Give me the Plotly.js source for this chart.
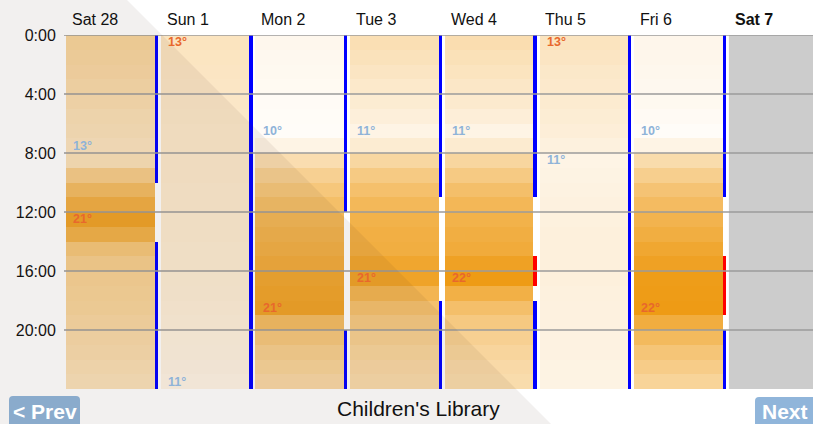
<!DOCTYPE html>
<html><head><meta charset="utf-8">
<script src="https://cdn.plot.ly/plotly-3.0.1.min.js"></script>
<style>html,body{margin:0;padding:0;background:#fff;overflow:hidden}#chart{width:813px;height:424px}</style>
</head><body><div id="chart"></div>
<script>
// ---- data ----
const days = ['Sat 28','Sun 1','Mon 2','Tue 3','Wed 4','Thu 5','Fri 6','Sat 7'];
const hourTickVals = [0,4,8,12,16,20];
const hourTickText = ['0:00','4:00','8:00','12:00','16:00','20:00'];
const tempSat28 = [14.8,14.6,14.4,14.1,13.8,13.5,13.3,13.0,13.4,15.8,17.8,19.5,21.0,19.2,16.6,15.6,15.2,15.0,14.8,14.5,14.2,13.9,13.6,13.3];
const tempSun1  = [13.0,12.9,12.8,12.7,12.6,12.5,12.4,12.4,12.3,12.3,12.2,12.2,12.1,12.1,12.0,12.0,11.9,11.8,11.7,11.6,11.4,11.3,11.2,11.0];
const tempMon2  = [10.6,10.5,10.4,10.3,10.1,10.05,10.0,11.0,13.8,15.4,16.6,17.6,18.5,19.0,19.4,19.9,20.5,20.8,21.0,17.8,16.5,15.6,15.0,14.4];
const tempTue3  = [13.6,13.2,12.8,12.4,12.0,11.6,11.0,12.0,14.6,16.2,17.4,18.4,19.2,19.5,19.7,20.6,21.0,18.8,17.3,16.2,15.4,14.8,14.4,14.1];
const tempWed4  = [13.8,13.4,13.0,12.6,12.2,11.7,11.0,12.1,14.7,16.2,17.5,18.5,19.2,19.6,20.0,21.2,22.0,19.4,17.5,16.3,15.4,14.8,14.3,14.0];
const tempThu5  = [13.0,12.8,12.5,12.3,12.1,11.9,11.7,11.4,11.0,11.1,11.2,11.3,11.4,11.5,11.5,11.5,11.5,11.4,11.3,11.3,11.2,11.2,11.1,11.1];
const tempFri6  = [10.7,10.7,10.6,10.5,10.4,10.2,10.0,11.0,14.0,15.6,17.0,18.0,19.0,19.7,20.5,21.2,21.8,21.9,22.0,19.8,18.2,16.8,15.9,15.0];
const segDay   = [0,0,1,2,2,3,3,4,4,4,5,6,6,6];
const segStart = [0,14,0,0,20,0,18,0,15,18,0,0,15,20];
const segEnd   = [10,24,24,12,24,11,24,11,17,24,24,11,19,24];
const segState = ['blue','blue','blue','blue','blue','blue','blue','blue','red','blue','blue','blue','red','blue'];
const labelDay  = [0,0,1,1,2,2,3,3,4,4,5,5,6,6];
const labelHour = [7,12,0,23,6,18,6,16,6,16,0,8,6,18];
const labelText = ['13°','21°','13°','11°','10°','21°','11°','21°','11°','22°','13°','11°','10°','22°'];
const labelKind = ['min','max','max','min','min','max','min','max','min','max','max','min','min','max'];
const noDataDay = 7;
const chartTitle = "Children's Library";

// ---- geometry helpers (decoration only) ----
const W = 813, H = 424, L = 66, T = 35, PW = 747, PH = 354;
const DAYPX = 94.7;
const px2x = p => (p - L) / PW;
const py2y = p => (T + PH - p) / PH;
const CELLW = 0.935;

const temps = [tempSat28, tempSun1, tempMon2, tempTue3, tempWed4, tempThu5, tempFri6];
const xEdges = [];
temps.forEach((t, d) => { xEdges.push(d, d + CELLW); });
const yEdges = Array.from({length: 25}, (_, i) => i);
const z = [];
for (let h = 0; h < 24; h++) {
  const row = [];
  temps.forEach((t, d) => { row.push(t[h]); if (d < temps.length - 1) row.push(null); });
  z.push(row);
}

const heat = {
  type: 'heatmap', x: xEdges, y: yEdges, z: z,
  zmin: 10, zmax: 22, zsmooth: false, showscale: false, hoverinfo: 'skip',
  colorscale: [[0, '#fffcf8'], [1, '#ee9b15']]
};

function segTrace(state, color) {
  const idx = segState.map((s, i) => s === state ? i : -1).filter(i => i >= 0);
  return {
    type: 'bar', x: idx.map(i => segDay[i] + 0.953), base: idx.map(i => segStart[i]),
    y: idx.map(i => segEnd[i] - segStart[i]), width: 0.036,
    marker: {color: color, line: {width: 0}}, hoverinfo: 'skip', showlegend: false
  };
}

const FONT = 'Liberation Sans, Arial, sans-serif';
const annotations = [];
days.forEach((d, i) => {
  annotations.push({
    x: i + 0.042, xref: 'x', y: py2y(20), yref: 'paper', xanchor: 'left', yanchor: 'middle',
    text: i === noDataDay ? '<b>' + d + '</b>' : d, showarrow: false,
    font: {size: 16, color: '#111', family: FONT}
  });
});
labelText.forEach((t, i) => {
  annotations.push({
    x: labelDay[i] + 0.055, xref: 'x', y: labelHour[i] + 0.5, yref: 'y',
    xanchor: 'left', yanchor: 'middle', text: '<b>' + t + '</b>', showarrow: false,
    font: {size: 12.5, color: labelKind[i] === 'max' ? '#e8682c' : '#8fb3d8', family: FONT}
  });
});
annotations.push({
  x: px2x(418), xref: 'paper', y: py2y(408), yref: 'paper', xanchor: 'center', yanchor: 'middle',
  text: chartTitle, showarrow: false, font: {size: 21, color: '#111', family: FONT}
});
annotations.push({
  x: px2x(44.5), xref: 'paper', y: py2y(412), yref: 'paper', xanchor: 'center', yanchor: 'middle',
  text: '<b>&lt; Prev</b>', showarrow: false, font: {size: 21, color: '#ffffff', family: FONT}
});
annotations.push({
  x: px2x(760), xref: 'paper', y: py2y(412), yref: 'paper', xanchor: 'left', yanchor: 'middle',
  text: '<b>Next &gt;</b>', showarrow: false, font: {size: 21, color: '#ffffff', family: FONT}
});

function roundRect(x0, y0, x1, y1, r) {
  const X = px2x, Y = py2y;
  return `M${X(x0 + r)},${Y(y0)} L${X(x1 - r)},${Y(y0)} Q${X(x1)},${Y(y0)} ${X(x1)},${Y(y0 + r)} ` +
         `L${X(x1)},${Y(y1 - r)} Q${X(x1)},${Y(y1)} ${X(x1 - r)},${Y(y1)} L${X(x0 + r)},${Y(y1)} ` +
         `Q${X(x0)},${Y(y1)} ${X(x0)},${Y(y1 - r)} L${X(x0)},${Y(y0 + r)} Q${X(x0)},${Y(y0)} ${X(x0 + r)},${Y(y0)} Z`;
}

const shapes = [];
shapes.push({type: 'rect', xref: 'x', yref: 'y', x0: noDataDay, x1: noDataDay + 1, y0: 0, y1: 24,
  fillcolor: '#cccccc', line: {width: 0}, layer: 'below'});
hourTickVals.forEach(v => {
  shapes.push({type: 'line', xref: 'paper', yref: 'y', x0: px2x(64), x1: 1, y0: v, y1: v,
    line: {color: '#9b9b9b', width: 1.5}, layer: 'above'});
});
shapes.push({type: 'path', xref: 'paper', yref: 'paper', path: roundRect(9, 396, 80, 432, 4),
  fillcolor: '#90b5da', line: {width: 0}, layer: 'above'});
shapes.push({type: 'path', xref: 'paper', yref: 'paper', path: roundRect(755, 397, 832, 432, 4),
  fillcolor: '#90b5da', line: {width: 0}, layer: 'above'});
shapes.push({type: 'path', xref: 'paper', yref: 'paper',
  path: `M${px2x(0)},${py2y(0)} L${px2x(127)},${py2y(0)} L${px2x(551)},${py2y(424)} L${px2x(0)},${py2y(424)} Z`,
  fillcolor: 'rgba(69,41,26,0.07)', line: {width: 0}, layer: 'above'});

const layout = {
  width: W, height: H, margin: {l: L, r: 0, t: T, b: H - T - PH, pad: 0},
  paper_bgcolor: '#ffffff', plot_bgcolor: '#ffffff',
  showlegend: false, barmode: 'overlay', bargap: 0,
  xaxis: {range: [0, PW / DAYPX], showgrid: false, zeroline: false, showticklabels: false,
    ticks: '', showline: false, fixedrange: true},
  yaxis: {range: [24, 0], tickvals: hourTickVals, ticktext: hourTickText, showgrid: false,
    zeroline: false, showline: false, ticks: 'outside', ticklen: 6, tickcolor: 'rgba(0,0,0,0)',
    tickfont: {size: 16, color: '#111', family: FONT}, fixedrange: true},
  annotations: annotations, shapes: shapes,
  font: {family: FONT}
};

Plotly.newPlot('chart', [heat, segTrace('blue', '#0000ff'), segTrace('red', '#ff0000')], layout,
  {displayModeBar: false, staticPlot: true});
</script></body></html>
